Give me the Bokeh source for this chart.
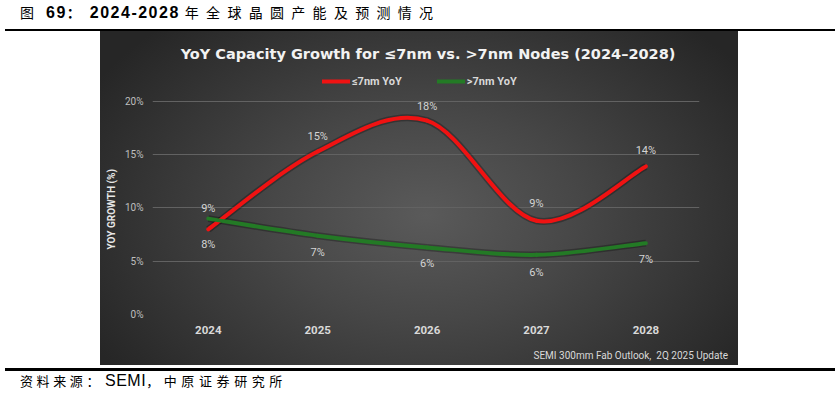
from bokeh.plotting import figure
from bokeh.models import (ColumnDataSource, Range1d, FixedTicker, Legend, Label, Title,
                          LegendItem, Div, Spacer, CustomJSTickFormatter)
from bokeh.layouts import column, row
from bokeh.core.properties import value
from bokeh.embed import file_html
from bokeh.resources import INLINE

# ---------------- data ----------------
years = [2024, 2025, 2026, 2027, 2028]
le7_yoy = [8.0, 15.3, 18.2, 8.8, 13.9]      # <=7nm YoY growth (%)
gt7_yoy = [9.0, 7.4, 6.3, 5.6, 6.7]         # >7nm YoY growth (%)
y_ticks = [0, 5, 10, 15, 20]
series_names = ["≤7nm YoY", ">7nm YoY"]
chart_title = "YoY Capacity Growth for ≤7nm vs. >7nm Nodes (2024–2028)"
y_axis_title = "YOY GROWTH (%)"
source_note = "SEMI 300mm Fab Outlook,  2Q 2025 Update"
fig_no = "图"
fig_num = "69"
fig_colon = "："
fig_years = "2024-2028"
fig_rest = "年全球晶圆产能及预测情况"
footer_a = "资料来源："
footer_b = "SEMI"
footer_c = "，中原证券研究所"

# label offsets (screen px, positive = down)
le7_label_dy = [15, -15, -14, -17, -16]
gt7_label_dy = [-10, 17, 16, 18, 16]

RED = "#f01212"
GREEN = "#237a25"
GRADIENT = "radial-gradient(ellipse 60% 78% at 51% 55%, #5a5a5a 0%, #474747 40%, #262626 100%)"


def smooth_segments(xs, ys):
    """Excel-like smoothed line: Catmull-Rom spline expressed as cubic Beziers."""
    x = [float(v) for v in xs]
    y = [float(v) for v in ys]
    n = len(x)
    d = dict(x0=[], y0=[], x1=[], y1=[], cx0=[], cy0=[], cx1=[], cy1=[])
    for i in range(n - 1):
        a = max(i - 1, 0)
        b = min(i + 2, n - 1)
        d["x0"].append(x[i]); d["y0"].append(y[i])
        d["x1"].append(x[i + 1]); d["y1"].append(y[i + 1])
        d["cx0"].append(x[i] + (x[i + 1] - x[a]) / 6.0)
        d["cy0"].append(y[i] + (y[i + 1] - y[a]) / 6.0)
        d["cx1"].append(x[i + 1] - (x[b] - x[i]) / 6.0)
        d["cy1"].append(y[i + 1] - (y[b] - y[i]) / 6.0)
    return ColumnDataSource(d)


# frame: 547 x 283 px; y range extended above 20% to leave room for title/legend
p = figure(width=638, height=315,
           x_range=Range1d(2023.49, 2028.49), y_range=Range1d(0, 26.57),
           output_backend="svg", toolbar_location=None,
           min_border_left=52, min_border_right=39,
           min_border_top=0, min_border_bottom=32,
           margin=(0, 0, 0, 0))
p.title.text = ""
p.background_fill_color = None
p.border_fill_color = None
p.outline_line_color = None

# axes
p.xaxis.ticker = FixedTicker(ticks=years)
p.yaxis.ticker = FixedTicker(ticks=y_ticks)
p.yaxis.formatter = CustomJSTickFormatter(code="return tick.toFixed(0) + '%'")
for ax in (p.xaxis[0], p.yaxis[0]):
    ax.axis_line_color = None
    ax.major_tick_line_color = None
    ax.minor_tick_line_color = None
    ax.major_tick_out = 0
    ax.major_tick_in = 0
p.xaxis.major_label_text_font = "Roboto"
p.xaxis.major_label_text_font_style = "bold"
p.xaxis.major_label_text_font_size = "11.5px"
p.xaxis.major_label_text_color = "#d9d9d9"
p.xaxis.major_label_standoff = 11
p.yaxis.major_label_text_font = "Roboto"
p.yaxis.major_label_text_font_size = "10px"
p.yaxis.major_label_text_color = "#bfbfbf"
p.yaxis.major_label_standoff = 9

# y-axis title, centred on the 0-20% span
p.add_layout(Title(text=y_axis_title, align="left", offset=65, standoff=8,
                   vertical_align="middle",
                   text_font="Roboto", text_font_style="bold",
                   text_font_size="10px", text_color="#e6e6e6"), "left")

p.xgrid.grid_line_color = None
p.ygrid.grid_line_color = "#626262"
p.ygrid.grid_line_width = 1

# smoothed lines
red_src = smooth_segments(years, le7_yoy)
green_src = smooth_segments(years, gt7_yoy)
bz = dict(x0="x0", y0="y0", x1="x1", y1="y1", cx0="cx0", cy0="cy0", cx1="cx1", cy1="cy1")
for src in (red_src, green_src):
    p.bezier(source=src, line_color="#000000", line_alpha=0.28, line_width=7, **bz)
r_red = p.bezier(source=red_src, line_color=RED, line_width=4, line_cap="round", **bz)
r_green = p.bezier(source=green_src, line_color=GREEN, line_width=4, line_cap="round", **bz)

# data labels
lbl_style = dict(text_font=value("Roboto"), text_font_size="11px", text_color="#d4d4d4",
                 text_align="center", text_baseline="middle")
red_lbl = ColumnDataSource(dict(x=years, y=le7_yoy, text=[f"{round(v)}%" for v in le7_yoy], dy=le7_label_dy))
green_lbl = ColumnDataSource(dict(x=years, y=gt7_yoy, text=[f"{round(v)}%" for v in gt7_yoy], dy=gt7_label_dy))
p.text(x="x", y="y", text="text", y_offset="dy", source=red_lbl, **lbl_style)
p.text(x="x", y="y", text="text", y_offset="dy", source=green_lbl, **lbl_style)

# legend (inside the extended frame, above the 20% line)
legend = Legend(items=[LegendItem(label=series_names[0], renderers=[r_red]),
                       LegendItem(label=series_names[1], renderers=[r_green])],
                location=(170, 226), orientation="horizontal",
                glyph_width=28, glyph_height=14, label_height=14, label_standoff=2,
                spacing=35, padding=0, margin=0,
                border_line_color=None, background_fill_alpha=0,
                label_text_font="Roboto", label_text_font_size="11px",
                label_text_font_style="bold", label_text_color="#d9d9d9")
p.add_layout(legend)

# chart title
p.add_layout(Label(x=275.5, y=261, x_units="screen", y_units="screen", text=chart_title,
                   text_align="center", text_baseline="middle",
                   text_font="DejaVu Sans", text_font_style="bold",
                   text_font_size="14.5px", text_color="#f2f2f2"))

# source note strip under the plot (same dark panel)
note = Div(text=(f'<div style="width:628px;height:19px;line-height:19px;text-align:right;'
                 f'font-family:Roboto;font-size:10px;color:#d9d9d9;white-space:pre;">'
                 f'{source_note}</div>'),
           width=638, height=19, margin=(0, 0, 0, 0))
panel = column(p, note, width=638, height=334, spacing=0, margin=(0, 0, 0, 0),
               styles={"background": GRADIENT})

# page header / footer
cjk = "font-family:'Noto Sans CJK SC';"
lat = "font-family:'Liberation Sans';"
top_html = (
    '<div style="box-sizing:border-box;width:830px;height:29px;'
    'white-space:nowrap;line-height:25px;padding-left:20px;color:#000;">'
    f'<span style="{cjk}font-size:14px;">{fig_no}</span>'
    f'<span style="{lat}font-weight:bold;font-size:16px;letter-spacing:1.5px;margin-left:12px;">{fig_num}</span>'
    f'<span style="{cjk}font-weight:bold;font-size:14px;">{fig_colon}</span>'
    f'<span style="{lat}font-weight:bold;font-size:16px;letter-spacing:1.5px;margin-left:9px;">{fig_years}</span>'
    f'<span style="{cjk}font-size:14px;letter-spacing:7.3px;margin-left:5px;">{fig_rest}</span>'
    '</div>')
footer_html = (
    '<div style="box-sizing:border-box;width:830px;height:20px;'
    'white-space:nowrap;line-height:20px;padding-left:20px;color:#000;">'
    f'<span style="{cjk}font-size:13px;letter-spacing:3.6px;">{footer_a}</span>'
    f'<span style="{lat}font-size:16px;letter-spacing:0.5px;margin-left:2px;">{footer_b}</span>'
    f'<span style="{cjk}font-size:13px;letter-spacing:4.6px;">{footer_c}</span>'
    '</div>')

top = Div(text=top_html, width=830, height=29, margin=(0, 0, 0, 0))
top_rule = Div(text="", width=830, height=2, margin=(0, 0, 0, 5),
               styles={"background-color": "#000000"})
gap = Spacer(width=830, height=3, margin=(0, 0, 0, 0))
bottom_rule = Div(text="", width=830, height=3, margin=(0, 0, 0, 5),
                  styles={"background-color": "#000000"})
footer = Div(text=footer_html, width=830, height=20, margin=(0, 0, 0, 0))

layout = column(top, top_rule,
                row(Spacer(width=100, height=334, margin=(0, 0, 0, 0)), panel, spacing=0),
                gap, bottom_rule, footer, spacing=0)

open("out.html", "w").write(file_html(layout, INLINE))
